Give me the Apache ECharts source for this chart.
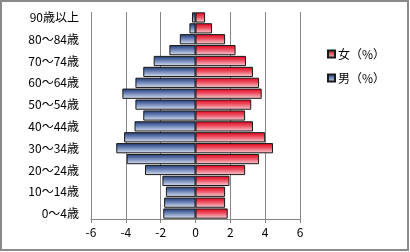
<!DOCTYPE html>
<html><head><meta charset="utf-8">
<script src="https://cdn.jsdelivr.net/npm/echarts@6/dist/echarts.min.js"></script>
<style>html,body{margin:0;padding:0;background:#fff}#c{width:410px;height:252px}</style>
</head><body><div id="c"></div>
<script>
const categories = ['0〜4歳','5〜9歳','10〜14歳','15〜19歳','20〜24歳','25〜29歳','30〜34歳','35〜39歳','40〜44歳','45〜49歳','50〜54歳','55〜59歳','60〜64歳','65〜69歳','70〜74歳','75〜79歳','80〜84歳','85〜89歳','90歳以上'];
const male = [-1.85,-1.8,-1.7,-1.9,-2.9,-3.95,-4.55,-4.1,-3.5,-3.0,-3.45,-4.2,-3.45,-3.0,-2.4,-1.5,-0.9,-0.35,-0.2];
const female = [1.85,1.7,1.7,1.95,2.85,3.65,4.45,4.0,3.3,2.85,3.2,3.8,3.65,3.3,2.9,2.3,1.7,0.95,0.55];
const xMin = -6, xMax = 6, xInterval = 2;
const seriesNames = ['女（%）','男（%）'];

const chart = echarts.init(document.getElementById('c'));
const font = '"Noto Sans CJK JP", sans-serif';
const grad = (a, m, b) => new echarts.graphic.LinearGradient(0, 0, 0, 1, [
  {offset: 0, color: a}, {offset: 0.45, color: m}, {offset: 1, color: b}
]);
chart.setOption({
  animation: false,
  textStyle: {fontFamily: font},
  graphic: [{type: 'rect', shape: {x: 1, y: 1, width: 407, height: 249}, style: {fill: 'none', stroke: '#8a8a8a', lineWidth: 2}, silent: true}],
  grid: {left: 91, right: 110, top: 12, bottom: 33},
  legend: {
    orient: 'vertical', left: 322, top: 43, itemGap: 12,
    itemWidth: 7, itemHeight: 7, icon: 'rect',
    textStyle: {fontSize: 12, color: '#000', fontFamily: font, padding: [0, 0, 0, -2]},
    data: seriesNames
  },
  xAxis: {
    type: 'value', min: xMin, max: xMax, interval: xInterval,
    axisLine: {show: true, lineStyle: {color: '#868686'}},
    axisTick: {show: true, length: 4, lineStyle: {color: '#868686'}},
    splitLine: {show: true, lineStyle: {color: '#868686'}},
    axisLabel: {fontSize: 12, color: '#000', margin: 7, fontFamily: font}
  },
  yAxis: {
    type: 'category', data: categories,
    axisLine: {show: false}, axisTick: {show: false},
    axisLabel: {interval: 1, fontSize: 12, color: '#000', margin: 12, fontFamily: font}
  },
  series: [
    {name: seriesNames[0], type: 'bar', data: female, barGap: '-100%', barCategoryGap: '6%',
     itemStyle: {color: grad('#e00018', '#ec5062', '#f7d6db'), borderColor: '#1a1a1a', borderWidth: 1}},
    {name: seriesNames[1], type: 'bar', data: male, barGap: '-100%', barCategoryGap: '6%',
     itemStyle: {color: grad('#1d3670', '#6a82b5', '#e0e6f2'), borderColor: '#1a1a1a', borderWidth: 1}}
  ]
});
</script></body></html>
